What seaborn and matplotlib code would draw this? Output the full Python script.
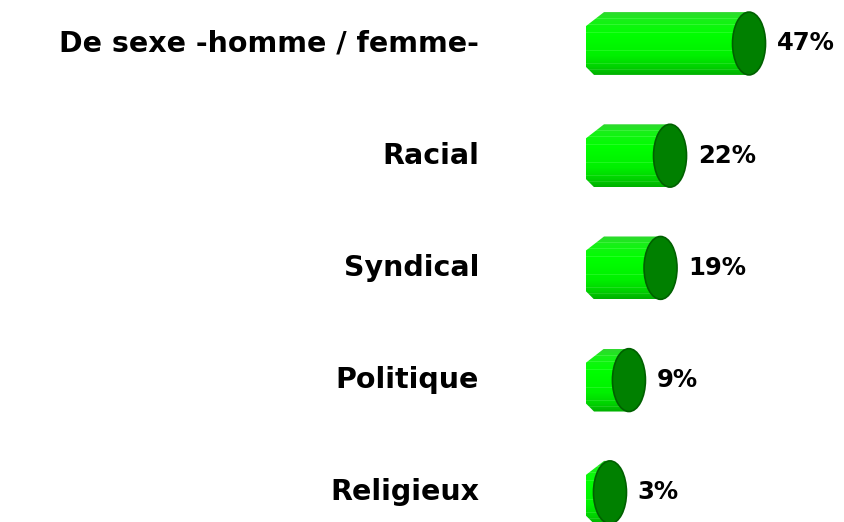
import numpy as np
import pandas as pd
import matplotlib
matplotlib.use("Agg")
import matplotlib.pyplot as plt
from matplotlib.patches import Ellipse, Polygon
from matplotlib.colors import to_rgb
import seaborn as sns

categories = ["De sexe -homme / femme-", "Racial", "Syndical", "Politique", "Religieux"]
values = [47, 22, 19, 9, 3]
value_labels = [f"{v}%" for v in values]

sns.set_theme(style="white")
plt.rcParams['font.family'] = ['DejaVu Sans']

W, H = 845, 522
fig = plt.figure(figsize=(W / 100, H / 100), dpi=100)
ax = fig.add_axes([586 / W, 0, (W - 586) / W, 1])

df = pd.DataFrame({"cat": categories, "val": values})
BAR_H = 0.56
sns.barplot(data=df, y="cat", x="val", orient="h", width=BAR_H, ax=ax,
            color="#00ff00", saturation=1)

# axis geometry (pixel-based)
px_per_unit = 3.16
x0_px = 600.5
xmin = (586 - x0_px) / px_per_unit
xmax = (W - x0_px) / px_per_unit
ymin_top = -43.5 / 112.2
ymax_bot = (H - 43.5) / 112.2

# vertical gradient for cylinder body
stops = [(0.0, "#2fd82f"), (0.12, "#18f018"), (0.35, "#00ff00"),
         (0.7, "#00f000"), (0.88, "#00d200"), (1.0, "#00b000")]
N = 64
fr = np.linspace(0, 1, N)
grad = np.zeros((N, 1, 3))
for ch in range(3):
    grad[:, 0, ch] = np.interp(fr, [s[0] for s in stops], [to_rgb(s[1])[ch] for s in stops])
for f in [0.1, 0.2, 0.33, 0.62, 0.84, 0.93]:
    k = int(f * (N - 1))
    grad[k, 0, :] = np.clip(grad[k, 0, :] + np.array([0.12, 0.02, 0.12]), 0, 1)

cap_w = 33 / px_per_unit
chamfer_tx = 18 / px_per_unit
chamfer_ty = 14 / 112.2
chamfer_bx = 8 / px_per_unit
chamfer_by = 8 / 112.2

for p, v, lab in zip(ax.patches, values, value_labels):
    c = p.get_y() + p.get_height() / 2
    left = xmin
    right = v
    top = c - BAR_H / 2
    bot = c + BAR_H / 2
    p.set_visible(False)
    poly = Polygon([(left, top + chamfer_ty), (left + chamfer_tx, top), (right, top),
                    (right, bot), (left + chamfer_bx, bot), (left, bot - chamfer_by)],
                   closed=True, facecolor="none", edgecolor="none", transform=ax.transData)
    ax.add_patch(poly)
    im = ax.imshow(grad, extent=(left, right, bot, top), aspect="auto",
                   interpolation="nearest", zorder=2)
    im.set_clip_path(poly)
    cap = Ellipse((v, c), width=cap_w, height=BAR_H, facecolor="#008000",
                  edgecolor="#006000", linewidth=1.2, zorder=3)
    ax.add_patch(cap)
    ax.annotate(lab, xy=(v, c), xytext=(20, 0), textcoords="offset points",
                ha="left", va="center", fontsize=17.5, fontweight="bold", color="black")

ax.set_xlim(xmin, xmax)
ax.set_ylim(ymax_bot, ymin_top)
ax.set_xlabel("")
ax.set_ylabel("")
ax.set_xticks([])
ax.tick_params(axis="y", length=0, pad=77)
for t in ax.get_yticklabels():
    t.set_fontsize(20.5)
    t.set_fontweight("bold")
    t.set_color("black")
    t.set_verticalalignment("center")
for s in ax.spines.values():
    s.set_visible(False)
ax.set_facecolor("white")
ax.patch.set_alpha(0)

fig.savefig("out.png", dpi=100, facecolor="white")
